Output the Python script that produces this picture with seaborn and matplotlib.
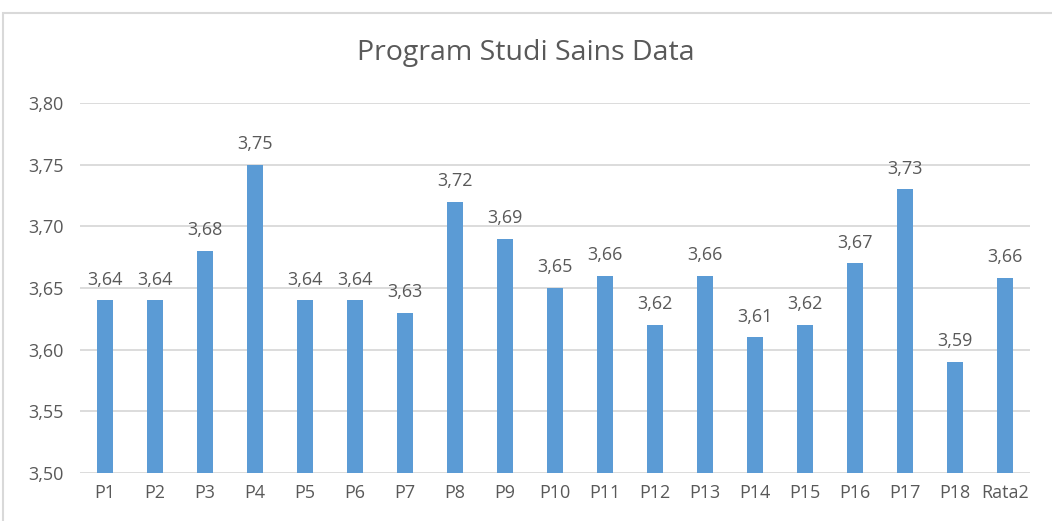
import matplotlib
matplotlib.use("Agg")
import matplotlib.pyplot as plt
import seaborn as sns
import pandas as pd
from matplotlib.patches import Rectangle

categories = ["P1", "P2", "P3", "P4", "P5", "P6", "P7", "P8", "P9", "P10",
              "P11", "P12", "P13", "P14", "P15", "P16", "P17", "P18", "Rata2"]
values = [3.64, 3.64, 3.68, 3.75, 3.64, 3.64, 3.63, 3.72, 3.69, 3.65,
          3.66, 3.62, 3.66, 3.61, 3.62, 3.67, 3.73, 3.59, 3.658]
yticks = [3.50, 3.55, 3.60, 3.65, 3.70, 3.75, 3.80]
title = "Program Studi Sains Data"

sns.set_style("white")
plt.rcParams['font.family'] = ['Open Sans', 'DejaVu Sans']

df = pd.DataFrame({"cat": categories, "val": values})
text_col = "#595959"
bar_col = "#5B9BD5"

fig = plt.figure(figsize=(10.52, 5.21), dpi=100)
ax = fig.add_axes([80/1052, 1-473/521, 950/1052, 370/521])

sns.barplot(data=df, x="cat", y="val", color=bar_col, width=0.33, ax=ax,
            saturation=1, zorder=3, linewidth=0)
for b in ax.patches:
    h = b.get_height()
    b.set_y(3.50)
    b.set_height(h - 3.50)

ax.set_ylim(3.50, 3.80)
ax.set_xlim(-0.5, len(categories) - 0.5)
ax.set_yticks(yticks)
ax.set_yticklabels([f"{t:.2f}".replace(".", ",") for t in yticks])
ax.grid(axis="y", color="#D9D9D9", linewidth=1.3, zorder=0)
ax.set_axisbelow(True)
for s in ax.spines.values():
    s.set_visible(False)
ax.tick_params(axis="both", length=0, labelsize=13, colors=text_col)
ax.tick_params(axis="x", pad=8)
ax.tick_params(axis="y", pad=12)
ax.set_xlabel("")
ax.set_ylabel("")

for i, v in enumerate(values):
    ax.text(i, v + 0.0095, f"{v:.2f}".replace(".", ","), ha="center", va="bottom",
            fontsize=13, color=text_col)

fig.text(0.5, 1-53/521, title, ha="center", va="center", fontsize=20.5, color=text_col)

fig.patches.append(Rectangle((3/1052, -0.1), 1.2, 1 - 13/521 + 0.1, transform=fig.transFigure,
                             fill=False, edgecolor="#D9D9D9", linewidth=1.5))

fig.savefig("out.png", dpi=100)
